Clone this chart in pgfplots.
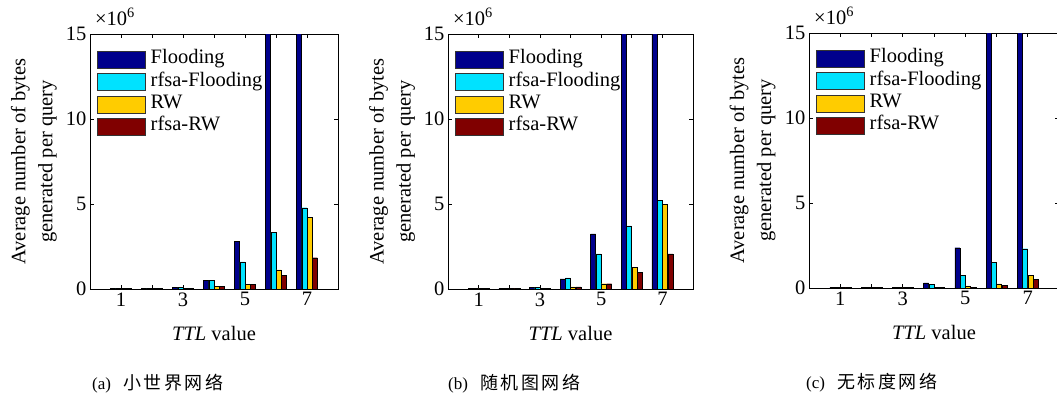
\documentclass[border=0pt]{standalone}
\usepackage{pgfplots}
\pgfplotsset{compat=1.18}
\usepackage{fontspec}
\setmainfont{Liberation Serif}
\newfontfamily\cjk{Noto Sans CJK SC}
\definecolor{cnavy}{RGB}{0,0,140}
\definecolor{ccyan}{RGB}{0,226,255}
\definecolor{cyel}{RGB}{255,204,0}
\definecolor{cred}{RGB}{128,0,0}
\newcommand\fs{\fontsize{20.5}{23}\selectfont}
\newcommand\subcap[2]{{\fontsize{17}{20}\selectfont (#1)}\hspace{12pt}{\cjk\fontsize{18}{20}\selectfont #2}}
\pgfplotsset{
  panel/.style={
    scale only axis, height=255pt,
    ybar=0.3pt, bar width=5pt,
    xmin=0, xmax=8, ymin=0, ymax=15,
    xtick={1,2,3,4,5,6,7}, xticklabels={1,,3,,5,,7}, ytick={0,5,10,15},
    tick align=inside, xtick pos=both, ytick pos=both,
    xticklabel pos=lower, yticklabel pos=left,
    major tick length=4pt,
    axis line style={line width=0.8pt},
    tick style={line width=0.6pt, black},
    scaled y ticks=false,
    /pgf/number format/assume math mode=true,
    ticklabel style={font=\fs},
    xlabel={\textit{TTL} value},
    xlabel style={font=\fs, at={(axis description cs:0.5,-0.2)}, anchor=base},
    ylabel={Average number of bytes\\generated per query},
    ylabel style={align=center, font=\fontsize{20.5}{27}\selectfont, at={(axis description cs:-0.12,0.5)}, anchor=south},
    every axis plot/.append style={draw=black, line width=0.4pt},
    legend image code/.code={\draw[#1,draw=black!80,line width=0.5pt] (0pt,-8.5pt) rectangle (48pt,8.5pt);},
    legend style={at={(axis description cs:0,1)}, anchor=north west, draw=none, fill=none,
      font=\fs, inner xsep=7pt, inner ysep=17pt, row sep=4.7pt, column sep=5pt,
      nodes={inner sep=0pt, text height=12.5pt, text depth=4.5pt}, cells={anchor=west}},
    clip mode=individual,
  }
}
\begin{document}
\begin{tikzpicture}
% ---------- (a) ----------
\begin{axis}[panel, width=248pt, at={(90pt,-289pt)}, anchor=south west]
\addplot[fill=cnavy] coordinates {(1,0.05)(2,0.05)(3,0.10)(4,0.49)(5,2.82)(6,30)(7,80)};
\addplot[fill=ccyan] coordinates {(1,0.04)(2,0.04)(3,0.10)(4,0.49)(5,1.59)(6,3.33)(7,4.78)};
\addplot[fill=cyel] coordinates {(1,0.05)(2,0.05)(3,0.05)(4,0.14)(5,0.29)(6,1.13)(7,4.21)};
\addplot[fill=cred] coordinates {(1,0.05)(2,0.05)(3,0.05)(4,0.15)(5,0.29)(6,0.82)(7,1.84)};
\legend{Flooding,rfsa-Flooding,RW,rfsa-RW}
\node[anchor=base west, inner sep=0, font=\fs] at (axis description cs:0.02,1.035) {×10\textsuperscript{6}};
\node[anchor=west, inner sep=0] at (axis description cs:0.008,-0.372) {\subcap{a}{小\hspace{2.5pt}世\hspace{2.5pt}界\hspace{2.5pt}网\hspace{2.5pt}络}};
\end{axis}
% ---------- (b) ----------
\begin{axis}[panel, width=245pt, at={(448pt,-289pt)}, anchor=south west]
\addplot[fill=cnavy] coordinates {(1,0.03)(2,0.03)(3,0.08)(4,0.59)(5,3.24)(6,30)(7,80)};
\addplot[fill=ccyan] coordinates {(1,0.03)(2,0.03)(3,0.08)(4,0.65)(5,2.06)(6,3.72)(7,5.20)};
\addplot[fill=cyel] coordinates {(1,0.03)(2,0.03)(3,0.03)(4,0.12)(5,0.31)(6,1.27)(7,4.98)};
\addplot[fill=cred] coordinates {(1,0.03)(2,0.03)(3,0.03)(4,0.12)(5,0.31)(6,0.96)(7,2.06)};
\legend{Flooding,rfsa-Flooding,RW,rfsa-RW}
\node[anchor=base west, inner sep=0, font=\fs] at (axis description cs:0.02,1.035) {×10\textsuperscript{6}};
\node[anchor=west, inner sep=0] at (axis description cs:0.0,-0.372) {\subcap{b}{随\hspace{2.5pt}机\hspace{2.5pt}图\hspace{2.5pt}网\hspace{2.5pt}络}};
\end{axis}
% ---------- (c) ----------
\begin{axis}[panel, width=250pt, at={(809pt,-288pt)}, anchor=south west]
\addplot[fill=cnavy] coordinates {(1,0.03)(2,0.03)(3,0.04)(4,0.30)(5,2.37)(6,30)(7,80)};
\addplot[fill=ccyan] coordinates {(1,0.03)(2,0.03)(3,0.04)(4,0.22)(5,0.75)(6,1.52)(7,2.31)};
\addplot[fill=cyel] coordinates {(1,0.03)(2,0.03)(3,0.04)(4,0.05)(5,0.12)(6,0.24)(7,0.75)};
\addplot[fill=cred] coordinates {(1,0.03)(2,0.03)(3,0.04)(4,0.05)(5,0.05)(6,0.16)(7,0.51)};
\legend{Flooding,rfsa-Flooding,RW,rfsa-RW}
\node[anchor=base west, inner sep=0, font=\fs] at (axis description cs:0.02,1.035) {×10\textsuperscript{6}};
\node[anchor=west, inner sep=0] at (axis description cs:-0.012,-0.372) {\subcap{c}{无\hspace{2.5pt}标\hspace{2.5pt}度\hspace{2.5pt}网\hspace{2.5pt}络}};
\end{axis}
\pgfresetboundingbox
\useasboundingbox (0,0) rectangle (1057pt,-400pt);
\end{tikzpicture}
\end{document}
